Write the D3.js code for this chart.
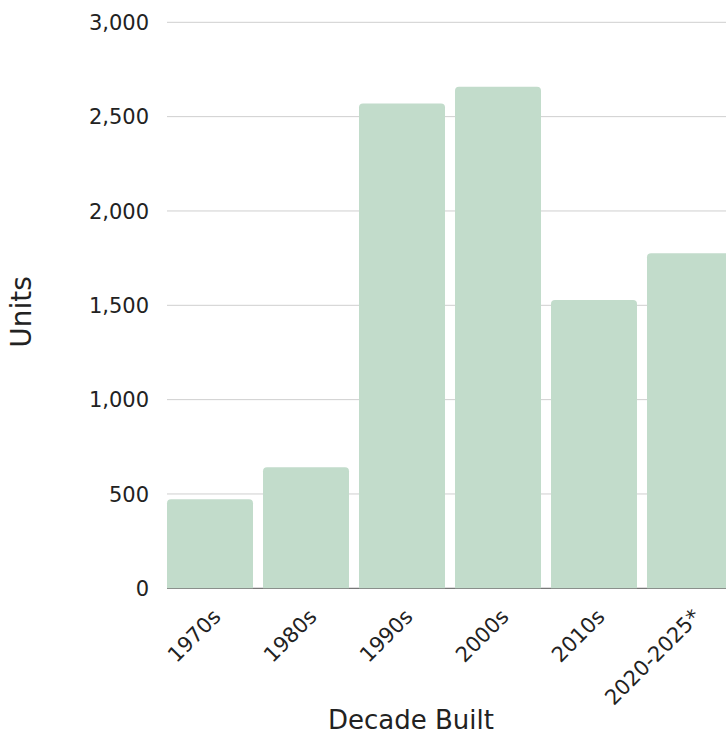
<!DOCTYPE html>
<html><head><meta charset="utf-8">
<script src="https://cdn.jsdelivr.net/npm/d3@7/dist/d3.min.js"></script>
<style>body{margin:0;background:#fff;} svg{display:block;}</style>
</head><body>
<script>
const categories = ["1970s","1980s","1990s","2000s","2010s","2020-2025*"];
const units = [472, 641, 2570, 2659, 1528, 1776];
const yTicks = [0, 500, 1000, 1500, 2000, 2500, 3000];

const W = 726, H = 734;
const FONT = "'DejaVu Sans', sans-serif";
const svg = d3.select("body").append("svg").attr("width", W).attr("height", H);

const x = d3.scaleBand().domain(categories).range([167, 733]).paddingInner(10/96).paddingOuter(0);
const y = d3.scaleLinear().domain([0, 3000]).range([588.3, 22.3]);

const yAxis = d3.axisLeft(y).tickValues(yTicks).tickFormat(d3.format(",")).tickSize(0).tickPadding(0);
const gy = svg.append("g").attr("transform", "translate(149,0)").call(yAxis);
gy.select(".domain").remove();
gy.selectAll("text").attr("font-family", FONT).attr("font-size", 21).attr("fill", "#222").attr("x", 0).attr("dy", "0.35em");

svg.append("g").selectAll("line").data(yTicks.filter(d => d > 0)).join("line")
  .attr("x1", 167).attr("x2", W).attr("y1", d => y(d)).attr("y2", d => y(d))
  .attr("stroke", "#cfcfcf").attr("stroke-width", 1);
svg.append("line").attr("x1", 167).attr("x2", W).attr("y1", y(0)).attr("y2", y(0))
  .attr("stroke", "#777").attr("stroke-width", 1.2);

const r = 4;
function barPath(x0, w, yTop, yBase) {
  return `M${x0},${yBase}V${yTop + r}Q${x0},${yTop} ${x0 + r},${yTop}H${x0 + w - r}Q${x0 + w},${yTop} ${x0 + w},${yTop + r}V${yBase}Z`;
}
svg.append("g").selectAll("path").data(categories).join("path")
  .attr("d", (c, i) => barPath(x(c), x.bandwidth(), y(units[i]), y(0)))
  .attr("fill", "#c2dccb");

svg.append("g").selectAll("text").data(categories).join("text")
  .attr("transform", c => `translate(${x(c) + x.bandwidth() / 2 + 12},${618}) rotate(-45)`)
  .attr("text-anchor", "end")
  .attr("font-family", FONT).attr("font-size", 21).attr("fill", "#222")
  .text(c => c);

svg.append("text").attr("x", 411).attr("y", 729)
  .attr("text-anchor", "middle").attr("font-family", FONT).attr("font-size", 26).attr("fill", "#222")
  .text("Decade Built");
svg.append("text").attr("transform", "translate(31,312) rotate(-90)")
  .attr("text-anchor", "middle").attr("font-family", FONT).attr("font-size", 28).attr("fill", "#222")
  .text("Units");
</script>
</body></html>
